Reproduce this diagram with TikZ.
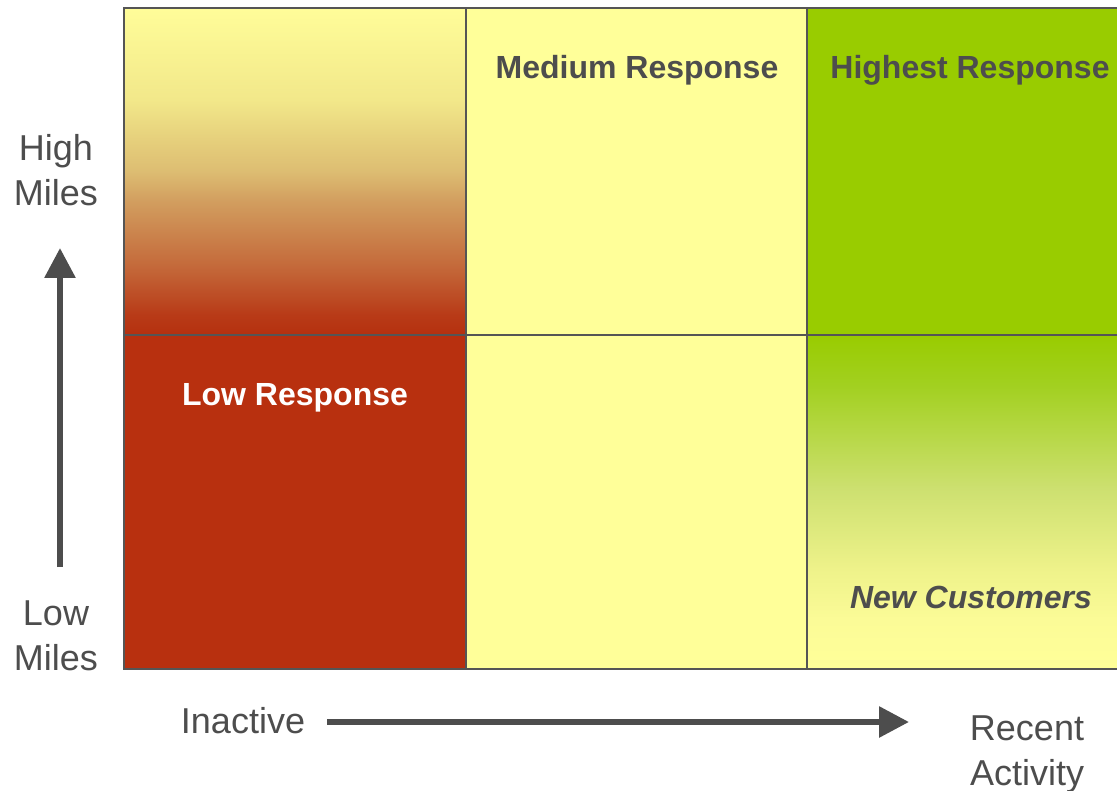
\documentclass[tikz,border=0pt]{standalone}
\usepackage{fontspec}
\setmainfont{Liberation Sans}
\usetikzlibrary{arrows.meta}

\definecolor{cellyellow}{HTML}{FFFF99}
\definecolor{cellgreen}{HTML}{99CC00}
\definecolor{cellred}{HTML}{B8300F}
\definecolor{gridline}{HTML}{555555}
\definecolor{labelgray}{HTML}{4D4D4D}

% stops of the yellow-to-red fade (top left cell)
\definecolor{rA}{HTML}{FFFD99}
\definecolor{rB}{HTML}{F2E88A}
\definecolor{rC}{HTML}{E6D07C}
\definecolor{rD}{HTML}{DDBD72}
\definecolor{rE}{HTML}{D29E5F}
\definecolor{rF}{HTML}{C4693A}
\definecolor{rG}{HTML}{B83A17}
\definecolor{rH}{HTML}{B5300F}
\pgfdeclareverticalshading{fadetored}{100bp}{%
  color(0bp)=(rH); color(25bp)=(rH); color(28bp)=(rG); color(35.5bp)=(rF);
  color(45.5bp)=(rE); color(50bp)=(rD); color(55bp)=(rC); color(61bp)=(rB);
  color(75bp)=(rA); color(100bp)=(rA)}

% stops of the green-to-yellow fade (bottom right cell)
\definecolor{gA}{HTML}{99CC00}
\definecolor{gB}{HTML}{A2D020}
\definecolor{gC}{HTML}{CDE070}
\definecolor{gD}{HTML}{EEF28A}
\definecolor{gE}{HTML}{FBFB97}
\definecolor{gF}{HTML}{FFFF99}
\pgfdeclareverticalshading{fadetoyellow}{100bp}{%
  color(0bp)=(gF); color(25bp)=(gF); color(32.5bp)=(gE); color(40bp)=(gD);
  color(52bp)=(gC); color(67.5bp)=(gB); color(75bp)=(gA); color(100bp)=(gA)}

\tikzset{
  gridrule/.style={draw=gridline, line width=2pt},
  cellhead/.style={font=\fontsize{32}{38}\selectfont\bfseries, text=labelgray, inner sep=0pt, anchor=base},
  axislabel/.style={font=\fontsize{36}{45}\selectfont, text=labelgray, align=center, inner sep=0pt, anchor=base},
  axisarrow/.style={draw=labelgray, line width=6pt, -{Triangle[length=30pt,width=30pt]}}
}

\begin{document}
\begin{tikzpicture}[x=1pt,y=-1pt]
  \useasboundingbox (0,0) rectangle (1117,791);
  \clip (0,0) rectangle (1117,791);

  % cell fills
  \fill[cellyellow] (466,8) rectangle (807,669);
  \fill[cellgreen] (807,8) rectangle (1140,335);
  \fill[cellred] (124,335) rectangle (466,669);
  \shade[shading=fadetored] (124,8) rectangle (466,335);
  \shade[shading=fadetoyellow] (807,335) rectangle (1140,669);

  % grid
  \draw[gridrule] (124,8) rectangle (1140,669);
  \draw[gridrule] (466,8) -- (466,669);
  \draw[gridrule] (807,8) -- (807,669);
  \draw[gridrule] (124,335) -- (1140,335);

  % cell captions
  \node[cellhead] (medium) at (637,79) {Medium Response};
  \node[cellhead] (highest) at (970,79) {Highest Response};
  \node[cellhead, text=white] (low) at (295,406) {Low Response};
  \node[cellhead, font=\fontsize{32}{38}\selectfont\bfseries\itshape] (new) at (971,608) {New Customers};

  % axis labels (base = baseline of the last line)
  \node[axislabel] (highmiles) at (56,206) {High\\Miles};
  \node[axislabel] (lowmiles) at (56,670) {Low\\Miles};
  \node[axislabel] (inactive) at (243,733) {Inactive};
  \node[axislabel] (recent) at (1027,785) {Recent\\Activity};

  % axis arrows
  \coordinate (vstart) at (60,567);
  \coordinate (vend) at (60,248);
  \coordinate (hstart) at (327,722);
  \coordinate (hend) at (909,722);
  \draw[axisarrow] (vstart) -- (vend);
  \draw[axisarrow] (hstart) -- (hend);
\end{tikzpicture}
\end{document}
